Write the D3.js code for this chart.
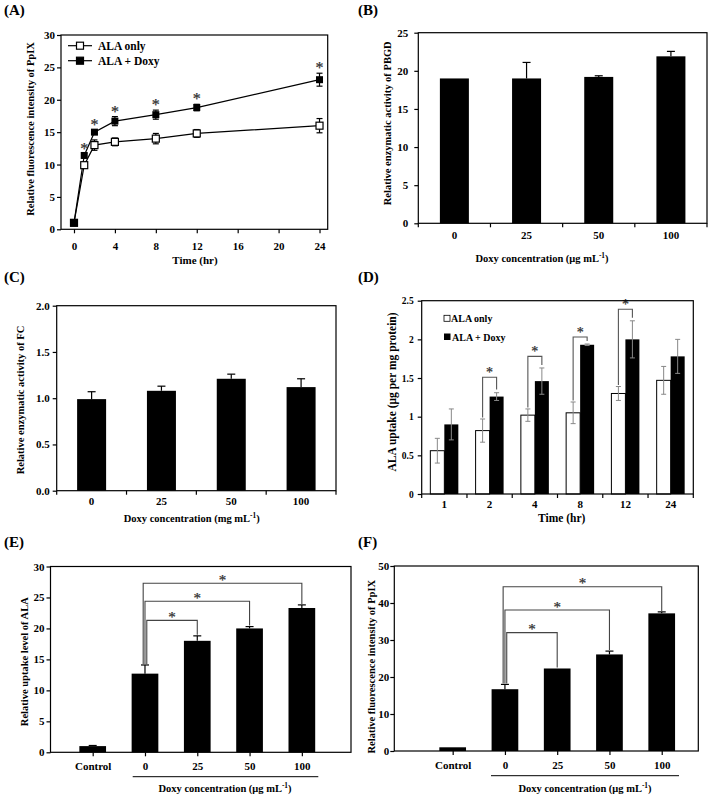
<!DOCTYPE html>
<html><head><meta charset="utf-8">
<script src="https://cdn.jsdelivr.net/npm/d3@7"></script>
<style>body{margin:0;background:#fff}</style>
</head><body><svg id="c" width="710" height="799"></svg>
<script>
// ---------- Panel A data ----------
const timeA=[0,1,2,4,8,12,24];
const alaOnlyA=[1,9.9,13,13.5,14,14.8,16];
const alaOnlyErrA=[0.2,0.3,0.8,0.6,0.8,0.6,1.1];
const alaDoxyA=[1,11.4,15,16.7,17.7,18.8,23.1];
const alaDoxyErrA=[0.2,0.3,0.3,0.7,0.7,0.5,1.0];
const sigTimesA=[1,2,4,8,12,24];
const xTicksA=[0,4,8,12,16,20,24];
const yTicksA=[0,5,10,15,20,25,30];
// ---------- Panel B data ----------
const doseB=["0","25","50","100"];
const pbgdB=[19,19,19.2,21.9];
const pbgdErrB=[0,2.1,0.15,0.65];
const yTicksB=[0,5,10,15,20,25];
// ---------- Panel C data ----------
const doseC=["0","25","50","100"];
const fcC=[0.99,1.08,1.21,1.12];
const fcErrC=[0.08,0.05,0.05,0.09];
const yTicksC=[0,0.5,1,1.5,2];
// ---------- Panel D data ----------
const timeD=["1","2","4","8","12","24"];
const alaOnlyD=[0.56,0.82,1.02,1.05,1.30,1.47];
const alaOnlyErrD=[0.16,0.15,0.08,0.14,0.09,0.18];
const alaDoxyD=[0.90,1.26,1.46,1.93,2.00,1.78];
const alaDoxyErrD=[0.20,0.05,0.17,0.01,0.24,0.22];
const sigGroupsD=["2","4","8","12"];
const bracketTopD=[1.51,1.78,2.03,2.39];
const yTicksD=[0,0.5,1,1.5,2,2.5];
// ---------- Panel E data ----------
const catsE=["Control","0","25","50","100"];
const uptakeE=[1.0,12.7,18.0,20.0,23.3];
const uptakeErrE=[0.1,1.4,0.8,0.3,0.5];
const bracketTargetsE=["25","50","100"];
const bracketTopE=[21.3,24.4,27.3];
const yTicksE=[0,5,10,15,20,25,30];
// ---------- Panel F data ----------
const catsF=["Control","0","25","50","100"];
const ppixF=[1.0,16.7,22.3,26.1,37.2];
const ppixErrF=[0.1,1.3,0,0.9,0.4];
const bracketTargetsF=["25","50","100"];
const bracketTopF=[32,38.1,44.4];
const yTicksF=[0,10,20,30,40,50];

const FF="'Liberation Serif','Times New Roman',serif";
const svg=d3.select("#c");
svg.append("rect").attr("width",710).attr("height",799).attr("fill","#fff");

function txt(x,y,s,fs,anchor,opts={}){
  const t=svg.append("text").attr("x",x).attr("y",y).attr("font-family",FF).attr("font-weight","bold")
    .attr("font-size",fs).attr("text-anchor",anchor||"start").attr("fill",opts.fill||"#000");
  if(opts.rot) t.attr("transform",`rotate(-90,${x},${y})`);
  t.text(s); return t;
}
function concLabel(x,y,unit,fs){
  const t=svg.append("text").attr("x",x).attr("y",y).attr("font-family",FF).attr("font-weight","bold")
    .attr("font-size",fs).attr("text-anchor","middle");
  t.append("tspan").text(`Doxy concentration (${unit} mL`);
  t.append("tspan").attr("dy",-4).attr("font-size",fs*0.7).text("-1");
  t.append("tspan").attr("dy",4).text(")");
}
function box(x0,y0,x1,y1){
  svg.append("rect").attr("x",x0).attr("y",y0).attr("width",x1-x0).attr("height",y1-y0)
    .attr("fill","none").attr("stroke","#000").attr("stroke-width",1.2);
}
function yAxis(y,x0,ticks,fmt,fs,pad){
  const g=svg.append("g").attr("transform",`translate(${x0},0)`)
    .call(d3.axisLeft(y).tickValues(ticks).tickFormat(fmt).tickSize(4).tickSizeOuter(0).tickPadding(pad));
  g.select(".domain").remove();
  g.attr("font-family",FF).attr("font-size",fs).attr("font-weight","bold");
  g.selectAll("line").attr("stroke-width",1.2);
  return g;
}
function xAxisLin(x,y0,ticks,fs,size,pad){
  const g=svg.append("g").attr("transform",`translate(0,${y0})`)
    .call(d3.axisBottom(x).tickValues(ticks).tickSize(size).tickSizeOuter(0).tickPadding(pad));
  g.select(".domain").remove();
  g.attr("font-family",FF).attr("font-size",fs).attr("font-weight","bold");
  g.selectAll("line").attr("stroke-width",1.2);
  return g;
}
function xAxisBand(x,y0,fs,pad){
  const g=svg.append("g").attr("transform",`translate(0,${y0})`)
    .call(d3.axisBottom(x).tickSize(0).tickPadding(pad));
  g.select(".domain").remove();
  g.attr("font-family",FF).attr("font-size",fs).attr("font-weight","bold");
  const dom=x.domain(), st=x.step();
  const r0=x.range()[0];
  for(let i=0;i<=dom.length;i++){
    svg.append("line").attr("x1",r0+i*st).attr("x2",r0+i*st).attr("y1",y0).attr("y2",y0+4)
      .attr("stroke","#000").attr("stroke-width",1.2);
  }
}
function errUp(x,yv,ye,cap,color){
  if(Math.abs(yv-ye)<0.5) return;
  svg.append("line").attr("x1",x).attr("x2",x).attr("y1",yv).attr("y2",ye).attr("stroke",color||"#000").attr("stroke-width",1.2);
  svg.append("line").attr("x1",x-cap/2).attr("x2",x+cap/2).attr("y1",ye).attr("y2",ye).attr("stroke",color||"#000").attr("stroke-width",1.2);
}
function errBoth(x,ylo,yhi,cap,color,w){
  svg.append("line").attr("x1",x).attr("x2",x).attr("y1",ylo).attr("y2",yhi).attr("stroke",color).attr("stroke-width",w||1.2);
  [ylo,yhi].forEach(yy=>svg.append("line").attr("x1",x-cap/2).attr("x2",x+cap/2).attr("y1",yy).attr("y2",yy).attr("stroke",color).attr("stroke-width",w||1.2));
}
function star(x,cy,fs){
  const f=fs||15;
  const by=cy+f*0.5;
  txt(x,by,"*",f,"middle",{fill:"#333"}).attr("font-weight","normal")
    .attr("stroke","#333").attr("stroke-width",0.25);
}

// Panel labels
[["(A)",4,15],["(B)",358,15],["(C)",4,282],["(D)",358,282],["(E)",4,547],["(F)",358,547]]
  .forEach(d=>txt(d[1],d[2],d[0],15,"start"));

// ================= Panel A =================
{
  const L=61,R=327.7,T=35,B=229.3;
  const x=d3.scaleLinear().domain([-1.27,24.8]).range([L,R]);
  const y=d3.scaleLinear().domain([0,30]).range([B,T]);
  yAxis(y,L,yTicksA,d3.format("d"),11,2);
  xAxisLin(x,B,xTicksA,11,4,9);
  const line=d3.line().x((d,i)=>x(timeA[i])).y(d=>y(d));
  svg.append("path").attr("d",line(alaOnlyA)).attr("fill","none").attr("stroke","#000").attr("stroke-width",1.2);
  svg.append("path").attr("d",line(alaDoxyA)).attr("fill","none").attr("stroke","#000").attr("stroke-width",1.2);
  timeA.forEach((t,i)=>{
    if(alaOnlyErrA[i]>0.25) errBoth(x(t),y(alaOnlyA[i]-alaOnlyErrA[i]),y(alaOnlyA[i]+alaOnlyErrA[i]),6,"#000");
    if(alaDoxyErrA[i]>0.25) errBoth(x(t),y(alaDoxyA[i]-alaDoxyErrA[i]),y(alaDoxyA[i]+alaDoxyErrA[i]),6,"#000");
  });
  timeA.forEach((t,i)=>{
    svg.append("rect").attr("x",x(t)-3.5).attr("y",y(alaOnlyA[i])-3.5).attr("width",7).attr("height",7)
      .attr("fill","#fff").attr("stroke","#000").attr("stroke-width",1.2);
    svg.append("rect").attr("x",x(t)-3.5).attr("y",y(alaDoxyA[i])-3.5).attr("width",7).attr("height",7)
      .attr("fill","#000");
  });
  sigTimesA.forEach(t=>{
    const i=timeA.indexOf(t);
    star(x(t),y(alaDoxyA[i]+alaDoxyErrA[i])-8,16);
  });
  [[45.7,"#fff","ALA only"],[60.7,"#000","ALA + Doxy"]].forEach(d=>{
    svg.append("line").attr("x1",68).attr("x2",92).attr("y1",d[0]).attr("y2",d[0]).attr("stroke","#000").attr("stroke-width",1.2);
    svg.append("rect").attr("x",76.5).attr("y",d[0]-3.5).attr("width",7).attr("height",7).attr("fill",d[1]).attr("stroke","#000").attr("stroke-width",1.2);
    txt(98,d[0]+4,d[2],11.5,"start");
  });
  box(L,T,R,B);
  txt(34,129,"Relative fluorescence intensity of PpIX",10.5,"middle",{rot:true});
  txt(195,264,"Time (hr)",11,"middle");
}

// ================= Panel B =================
{
  const L=418.3,R=707,T=32.7,B=223.3;
  const x=d3.scaleBand().domain(doseB).range([L,R]);
  const y=d3.scaleLinear().domain([0,25]).range([B,T]);
  const bw=29;
  yAxis(y,L,yTicksB,d3.format("d"),11,6);
  xAxisBand(x,B,11,8);
  doseB.forEach((d,i)=>{
    const cx=x(d)+x.bandwidth()/2;
    svg.append("rect").attr("x",cx-bw/2).attr("y",y(pbgdB[i])).attr("width",bw).attr("height",B-y(pbgdB[i])).attr("fill","#000");
    errUp(cx,y(pbgdB[i]),y(pbgdB[i]+pbgdErrB[i]),8);
  });
  box(L,T,R,B);
  txt(391,123.3,"Relative  enzymatic  activity  of PBGD",10.5,"middle",{rot:true});
  concLabel(542,261.5,"\u03bcg",10.5);
}

// ================= Panel C =================
{
  const L=56.7,R=336,T=305.7,B=490.7;
  const x=d3.scaleBand().domain(doseC).range([L,R]);
  const y=d3.scaleLinear().domain([0,2]).range([B,T]);
  const bw=29;
  yAxis(y,L,yTicksC,d3.format(".1f"),11,3);
  xAxisBand(x,B,11,7);
  doseC.forEach((d,i)=>{
    const cx=x(d)+x.bandwidth()/2;
    svg.append("rect").attr("x",cx-bw/2).attr("y",y(fcC[i])).attr("width",bw).attr("height",B-y(fcC[i])).attr("fill","#000");
    errUp(cx,y(fcC[i]),y(fcC[i]+fcErrC[i]),8);
  });
  box(L,T,R,B);
  txt(23.5,400,"Relative  enzymatic  activity  of FC",10.5,"middle",{rot:true});
  concLabel(191.7,522,"mg",10.5);
}

// ================= Panel D =================
{
  const L=421.7,R=693.3,T=300.7,B=494;
  const x=d3.scaleBand().domain(timeD).range([L,R]);
  const y=d3.scaleLinear().domain([0,2.5]).range([B,T]);
  const bw=14;
  yAxis(y,L,yTicksD,d3.format(""),9.5,4);
  xAxisBand(x,B,11,6);
  timeD.forEach((d,i)=>{
    const cx=x(d)+x.bandwidth()/2;
    svg.append("rect").attr("x",cx-bw).attr("y",y(alaOnlyD[i])).attr("width",bw).attr("height",B-y(alaOnlyD[i]))
      .attr("fill","#fff").attr("stroke","#000").attr("stroke-width",1);
    svg.append("rect").attr("x",cx).attr("y",y(alaDoxyD[i])).attr("width",bw).attr("height",B-y(alaDoxyD[i])).attr("fill","#000");
    errBoth(cx-bw/2,y(alaOnlyD[i]-alaOnlyErrD[i]),y(alaOnlyD[i]+alaOnlyErrD[i]),5,"#888",1);
    errBoth(cx+bw/2,y(alaDoxyD[i]-alaDoxyErrD[i]),y(alaDoxyD[i]+alaDoxyErrD[i]),5,"#888",1);
  });
  sigGroupsD.forEach((g,k)=>{
    const i=timeD.indexOf(g);
    const cx=x(g)+x.bandwidth()/2;
    const xl=cx-bw/2, xr=cx+bw/2;
    const yt=y(bracketTopD[k]);
    const yl=y(alaOnlyD[i]+alaOnlyErrD[i]+0.02), yr=y(alaDoxyD[i]+alaDoxyErrD[i]+0.04);
    svg.append("path").attr("d",`M${xl},${yl}V${yt}H${xr}V${yr}`).attr("fill","none").attr("stroke","#555").attr("stroke-width",1.1);
    star((xl+xr)/2,yt-7,14);
  });
  svg.append("rect").attr("x",444).attr("y",315.3).attr("width",6).attr("height",6).attr("fill","#fff").attr("stroke","#000").attr("stroke-width",0.8);
  txt(451,322,"ALA only",10,"start");
  svg.append("rect").attr("x",444).attr("y",333.5).attr("width",6.5).attr("height",6.5).attr("fill","#000");
  txt(452,340.5,"ALA + Doxy",10,"start");
  box(L,T,R,B);
  txt(396,392,"ALA uptake (\u03bcg per mg protein)",11.5,"middle",{rot:true});
  txt(561.7,522,"Time (hr)",11.5,"middle");
}

// ================= Panel E & F helper =================
function panelEF(cfg){
  const {L,R,T,B,dom,cats,vals,errs,yTicks,ymax,targets,tops,ylabel,ylx,yly,ulY,ulX0,ulX1,tX,tY,lblPad,yPad}=cfg;
  const x=d3.scaleLinear().domain(dom).range([L,R]);
  const y=d3.scaleLinear().domain([0,ymax]).range([B,T]);
  const bw=26.7;
  yAxis(y,L,yTicks,d3.format("d"),11,yPad);
  const g=svg.append("g").attr("transform",`translate(0,${B})`)
    .call(d3.axisBottom(x).tickValues(d3.range(cats.length)).tickFormat(i=>cats[i]).tickSize(4).tickSizeOuter(0).tickPadding(lblPad));
  g.select(".domain").remove();
  g.attr("font-family",FF).attr("font-size",11).attr("font-weight","bold");
  g.selectAll("line").attr("stroke-width",1.2);
  cats.forEach((c,i)=>{
    svg.append("rect").attr("x",x(i)-bw/2).attr("y",y(vals[i])).attr("width",bw).attr("height",B-y(vals[i])).attr("fill","#000");
    errUp(x(i),y(vals[i]),y(vals[i]+errs[i]),8);
  });
  const i0=cats.indexOf("0");
  const base=y(vals[i0]+errs[i0])-1;
  targets.forEach((t,k)=>{
    const j=cats.indexOf(t);
    const xl=x(i0)+1.8-1.8*k;
    const xr=x(j);
    const yt=y(tops[k]);
    const yr=y(vals[j]+errs[j])-1;
    svg.append("path").attr("d",`M${xl},${base}V${yt}H${xr}V${yr}`).attr("fill","none").attr("stroke","#444").attr("stroke-width",1.1);
    star((xl+xr)/2,yt-6,15);
  });
  box(L,T,R,B);
  svg.append("line").attr("x1",ulX0).attr("x2",ulX1).attr("y1",ulY).attr("y2",ulY).attr("stroke","#000").attr("stroke-width",1);
  txt(ylx,yly,ylabel,10.5,"middle",{rot:true});
  concLabel(tX,tY,"\u03bcg",10.5);
}
panelEF({L:50.5,R:351,T:566.5,B:752.3,dom:[-0.807,4.94],cats:catsE,vals:uptakeE,errs:uptakeErrE,
  yTicks:yTicksE,ymax:30,targets:bracketTargetsE,tops:bracketTopE,ylabel:"Relative uptake level of ALA",
  ylx:28,yly:661.7,ulY:776.7,ulX0:132.7,ulX1:318.3,tX:225,tY:791.7,lblPad:6,yPad:2});
panelEF({L:394.3,R:698.3,T:566,B:751,dom:[-1.117,4.70],cats:catsF,vals:ppixF,errs:ppixErrF,
  yTicks:yTicksF,ymax:50,targets:bracketTargetsF,tops:bracketTopF,ylabel:"Relative fluorescence intensity of PpIX",
  ylx:375,yly:666.7,ulY:775.7,ulX0:491,ulX1:679,tX:585,tY:792,lblPad:6.5,yPad:1});
</script></body></html>
